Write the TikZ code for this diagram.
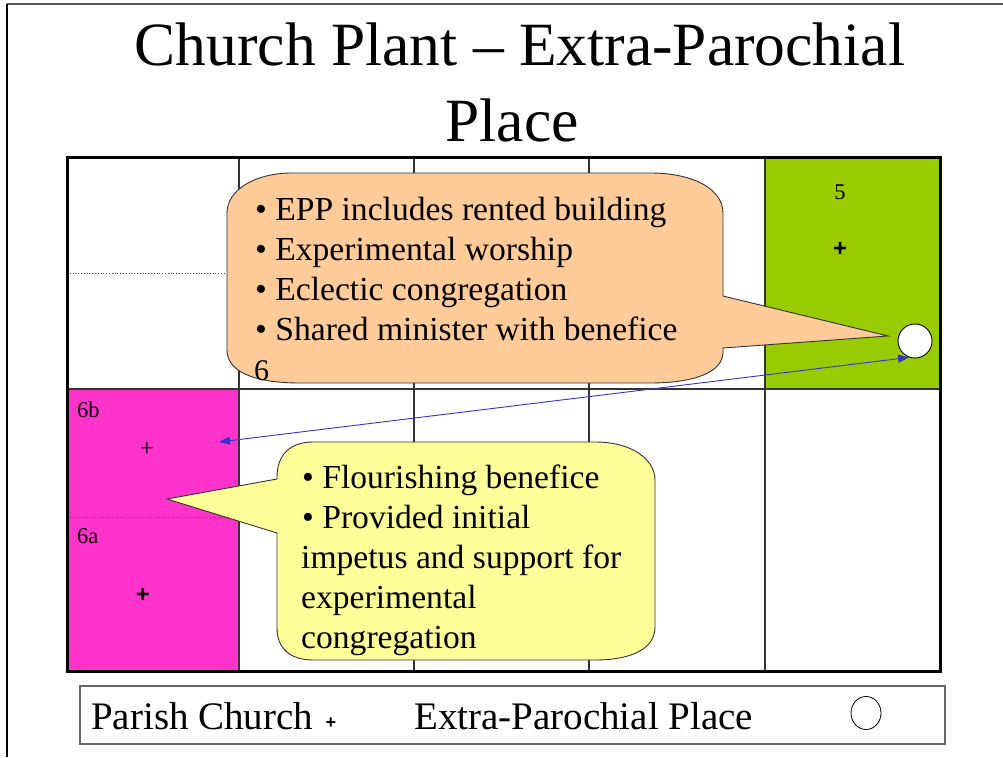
\documentclass[tikz,border=0pt]{standalone}
\usepackage{fontspec}
\setmainfont{Liberation Serif}
\newfontfamily\sansf{Liberation Sans}
\usetikzlibrary{arrows.meta,shapes.geometric}
\definecolor{cellgreen}{HTML}{99CC00}
\definecolor{cellmag}{HTML}{FF33CC}
\definecolor{bubor}{HTML}{FFCC99}
\definecolor{bubye}{HTML}{FFFF99}
\definecolor{arrblue}{HTML}{3333CC}
\definecolor{gridgray}{HTML}{333333}
\tikzset{
  gridline/.style={draw=gridgray, line width=1.5pt},
  bubble/.style={draw=black!80, line width=0.9pt},
  btxt/.style={anchor=base west, inner sep=0pt, font=\fontsize{33.6}{40}\selectfont},
  celllab/.style={inner sep=0pt, font=\fontsize{22.5}{26}\selectfont},
  legtxt/.style={anchor=base west, inner sep=0pt, font=\fontsize{39}{44}\selectfont},
  ttl/.style={anchor=base, inner sep=0pt, font=\fontsize{61.5}{72}\selectfont},
  conn/.style={draw=arrblue, line width=0.9pt, {Triangle[length=11pt,width=8pt]}-{Triangle[length=11pt,width=8pt]}}
}
\begin{document}
\begin{tikzpicture}[x=1pt,y=-1pt]
\useasboundingbox (0,0) rectangle (1003,757);
\fill[white] (0,0) rectangle (1003,757);
% page frame
\draw[black!65, line width=2pt] (7,4) -- (1003,4);
\draw[black, line width=2pt] (7,4) -- (7,757);
% title
\node[ttl] (title1) at (520,66) {Church Plant – Extra-Parochial};
\node[ttl] (title2) at (512,141) {Place};
% cells
\fill[cellgreen] (765,157) rectangle (940,389);
\fill[cellmag] (67,389) rectangle (239,671);
\draw[black!70, dotted, line width=0.8pt] (67,273) -- (239,273);
\draw[black!70, dotted, line width=0.8pt] (67,517) -- (239,517);
\foreach \x in {239,414,589,765} \draw[gridline] (\x,157) -- (\x,671);
\draw[gridline] (67,389) -- (940,389);
\draw[black, line width=3pt] (67,157) rectangle (940,671);
% cell labels
\node[celllab] (l5) at (840,192) {5};
\node[inner sep=0pt, font=\sansf\bfseries\fontsize{24}{26}\selectfont] (p5) at (840,249) {+};
\node[celllab, anchor=west] (l6b) at (77,410) {6b};
\node[inner sep=0pt, font=\fontsize{25}{28}\selectfont] (p6b) at (147,449) {+};
\node[celllab, anchor=west] (l6a) at (77,536) {6a};
\node[inner sep=0pt, font=\sansf\bfseries\fontsize{24}{26}\selectfont] (p6a) at (143,595) {+};
% orange bubble
\path[bubble, fill=bubor] (292,173) -- (650,173) .. controls (695,173) and (723,190) .. (723,213)
  -- (723,296) -- (888,336) -- (723,348) -- (723,352)
  .. controls (723,372) and (695,383) .. (650,383) -- (300,383)
  .. controls (255,383) and (227,372) .. (227,350) -- (227,213)
  .. controls (227,190) and (255,173) .. (292,173) -- cycle;
\node[btxt] (o1) at (255,220) {• EPP includes rented building};
\node[btxt] (o2) at (255,260) {• Experimental worship};
\node[btxt] (o3) at (255,300) {• Eclectic congregation};
\node[btxt] (o4) at (255,340) {• Shared minister with benefice};
\node[btxt, font=\fontsize{30}{36}\selectfont] (six) at (254,380) {6};
% yellow bubble
\path[bubble, fill=bubye] (313,442) -- (595,442) .. controls (633,442) and (655,460) .. (655,480)
  -- (655,627) .. controls (655,648) and (633,660) .. (595,660) -- (313,660)
  .. controls (290,660) and (277,648) .. (277,628) -- (277,533) -- (167,499) -- (277,479)
  -- (277,477) .. controls (277,455) and (290,442) .. (313,442) -- cycle;
\node[btxt] (y1) at (302,488) {• Flourishing benefice};
\node[btxt] (y2) at (302,528) {• Provided initial};
\node[btxt] (y3) at (301,568) {impetus and support for};
\node[btxt] (y4) at (301,608) {experimental};
\node[btxt] (y5) at (301,648) {congregation};
% extra-parochial place marker and arrow
\node[circle, draw=black, line width=0.9pt, fill=white, minimum size=34pt, inner sep=0pt] (epp) at (915,341) {};
\coordinate (t6b) at (219,442);
\draw[conn] (t6b) -- (epp.250);
% legend
\draw[black!60, line width=1.5pt] (80,686) rectangle (945,744);
\node[legtxt] (lg1) at (91,729) {Parish Church};
\node[inner sep=0pt, font=\sansf\bfseries\fontsize{18}{20}\selectfont] (lgp) at (331,723) {+};
\node[legtxt] (lg2) at (414,729) {Extra-Parochial Place};
\node[ellipse, draw=black, line width=0.8pt, minimum width=30pt, minimum height=33pt, inner sep=0pt] (lgc) at (866,713) {};
\end{tikzpicture}
\end{document}
